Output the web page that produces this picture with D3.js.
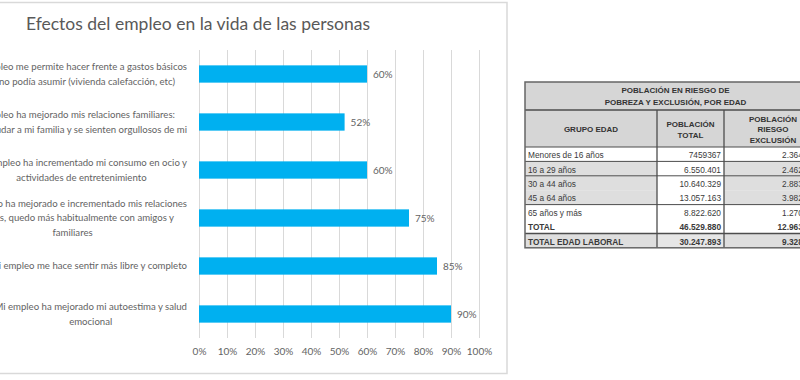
<!DOCTYPE html>
<html>
<head>
<meta charset="utf-8">
<script src="https://cdn.jsdelivr.net/npm/d3@7"></script>
<style>
  body { margin: 0; background: #fff; }
  svg { display: block; }
</style>
</head>
<body>
<script>
//chart + table of employment effects and poverty risk

(function(){

//bar chart data
var categories = [
    ["Mi empleo me permite hacer frente a gastos básicos", "que no podía asumir (vivienda calefacción, etc)"],
    ["Mi empleo ha mejorado mis relaciones familiares:", "puedo ayudar a mi familia y se sienten orgullosos de mi"],
    ["Mi empleo ha incrementado mi consumo en ocio y", "actividades de entretenimiento"],
    ["Mi empleo ha mejorado e incrementado mis relaciones", "sociales, quedo más habitualmente con amigos y", "familiares"],
    ["Mi empleo me hace sentir más libre y completo"],
    ["Mi empleo ha mejorado mi autoestima y salud", "emocional"]
];
var values = [60, 52, 60, 75, 85, 90];
var xTicks = [0, 10, 20, 30, 40, 50, 60, 70, 80, 90, 100];
var chartTitle = "Efectos del empleo en la vida de las personas";

//table data
var tableTitle = ["POBLACIÓN EN RIESGO DE", "POBREZA Y EXCLUSIÓN, POR EDAD"];
var tableHeaders = [["GRUPO EDAD"], ["POBLACIÓN", "TOTAL"], ["POBLACIÓN", "RIESGO", "EXCLUSIÓN"]];
var ageGroups = ["Menores de 16 años", "16 a 29 años", "30 a 44 años", "45 a 64 años", "65 años y más", "TOTAL", "TOTAL EDAD LABORAL"];
var totalPop = ["7459367", "6.550.401", "10.640.329", "13.057.163", "8.822.620", "46.529.880", "30.247.893"];
var riskPop = ["2.364.481", "2.462.614", "2.883.727", "3.982.545", "1.270.002", "12.963.369", "9.328.886"];

var width = 800, height = 380;
var grey = "#636363";

var svg = d3.select("body")
    .append("svg")
    .attr("width", width)
    .attr("height", height);

drawChart();
drawTable();

function drawChart(){
    //chart frame
    svg.append("rect")
        .attr("x", -2)
        .attr("y", 2.5)
        .attr("width", 509)
        .attr("height", 371)
        .attr("fill", "#fff")
        .attr("stroke", "#d9d9d9")
        .attr("stroke-width", 1.5);

    svg.append("text")
        .attr("x", 198)
        .attr("y", 30)
        .attr("text-anchor", "middle")
        .style("font-family", "Lato, 'Open Sans', sans-serif")
        .style("font-size", "17.5px")
        .style("fill", "#595959")
        .text(chartTitle);

    var x = d3.scaleLinear()
        .domain([0, 100])
        .range([199, 479]);

    var y = d3.scaleBand()
        .domain(d3.range(categories.length))
        .range([50, 338])
        .paddingInner(0.64)
        .paddingOuter(0.32);

    //gridlines
    svg.selectAll(".grid")
        .data(xTicks)
        .enter()
        .append("line")
        .attr("class", "grid")
        .attr("x1", function(d){ return x(d) + 0.5; })
        .attr("x2", function(d){ return x(d) + 0.5; })
        .attr("y1", 50)
        .attr("y2", 338)
        .attr("stroke", "#d9d9d9")
        .attr("stroke-width", 1);

    //x axis labels
    var xAxis = d3.axisBottom(x)
        .tickValues(xTicks)
        .tickSize(0)
        .tickPadding(0)
        .tickFormat(function(d){ return d + "%"; });

    var axisG = svg.append("g")
        .attr("transform", "translate(0,348)")
        .call(xAxis);
    axisG.select(".domain").remove();
    axisG.selectAll("text")
        .style("font-family", "Lato, 'Open Sans', sans-serif")
        .style("font-size", "10px")
        .style("fill", grey);

    //bars
    svg.selectAll(".bar")
        .data(values)
        .enter()
        .append("rect")
        .attr("class", "bar")
        .attr("x", x(0))
        .attr("y", function(d, i){ return y(i); })
        .attr("width", function(d){ return x(d) - x(0); })
        .attr("height", y.bandwidth())
        .attr("fill", "#00b0f0");

    //value labels
    svg.selectAll(".val")
        .data(values)
        .enter()
        .append("text")
        .attr("class", "val")
        .attr("x", function(d){ return x(d) + 6; })
        .attr("y", function(d, i){ return y(i) + y.bandwidth() / 2; })
        .attr("dy", "0.35em")
        .style("font-family", "Lato, 'Open Sans', sans-serif")
        .style("font-size", "10px")
        .style("fill", grey)
        .text(function(d){ return d + "%"; });

    //category labels: block right aligned, lines centred inside block
    var lineH = 14.5;
    var labels = svg.selectAll(".cat")
        .data(categories)
        .enter()
        .append("text")
        .attr("class", "cat")
        .style("font-family", "Lato, 'Open Sans', sans-serif")
        .style("font-size", "9.6px")
        .style("fill", grey)
        .attr("text-anchor", "middle");

    labels.each(function(lines, i){
        var t = d3.select(this);
        var cy = y(i) + y.bandwidth() / 2;
        var spans = t.selectAll("tspan")
            .data(lines)
            .enter()
            .append("tspan")
            .attr("y", function(d, j){ return cy + (j - (lines.length - 1) / 2) * lineH; })
            .attr("dy", "0.35em")
            .text(function(d){ return d; });
        var maxW = 0;
        spans.each(function(){ maxW = Math.max(maxW, this.getComputedTextLength()); });
        spans.attr("x", 187 - maxW / 2);
    });
};

function drawTable(){
    var cols = [525, 657, 724, 822];
    var top = 82, titleBottom = 110, headBottom = 147;
    var rowH = 14.4;
    var shadedRows = [1, 2, 3, 6];
    var groupStarts = [1, 2, 4, 6];
    var boldRows = [5, 6];
    var lineCol = "#4d4d4d";
    var font = "'Liberation Sans', Arial, sans-serif";

    var rowY = d3.scaleLinear()
        .domain([0, ageGroups.length])
        .range([headBottom, headBottom + rowH * ageGroups.length]);
    var bottom = rowY(ageGroups.length);

    var t = svg.append("g").attr("class", "table");

    //header backgrounds
    t.append("rect")
        .attr("x", cols[0]).attr("y", top)
        .attr("width", cols[3] - cols[0]).attr("height", headBottom - top)
        .attr("fill", "#d6d6d6");

    //data row backgrounds
    ageGroups.forEach(function(g, i){
        var shaded = shadedRows.indexOf(i) >= 0;
        t.append("rect")
            .attr("x", cols[0]).attr("y", rowY(i))
            .attr("width", cols[1] - cols[0]).attr("height", rowH)
            .attr("fill", shaded ? "#dedede" : "#fff");
        t.append("rect")
            .attr("x", cols[1]).attr("y", rowY(i))
            .attr("width", cols[2] - cols[1]).attr("height", rowH)
            .attr("fill", i == 6 ? "#e6e6e6" : "#fff");
        t.append("rect")
            .attr("x", cols[2]).attr("y", rowY(i))
            .attr("width", cols[3] - cols[2]).attr("height", rowH)
            .attr("fill", shaded ? "#dedede" : "#fff");
    });

    //title text
    t.selectAll(".ttl")
        .data(tableTitle)
        .enter()
        .append("text")
        .attr("x", (cols[0] + cols[3]) / 2 + 2)
        .attr("y", function(d, i){ return 90 + i * 12.5; })
        .attr("dy", "0.35em")
        .attr("text-anchor", "middle")
        .style("font-family", font)
        .style("font-size", "8px")
        .style("font-weight", "bold")
        .style("fill", "#333")
        .text(function(d){ return d; });

    //column headers
    tableHeaders.forEach(function(lines, c){
        var cx = (cols[c] + cols[c + 1]) / 2;
        var cy = (titleBottom + headBottom) / 2 + 1;
        t.selectAll(".h" + c)
            .data(lines)
            .enter()
            .append("text")
            .attr("x", cx)
            .attr("y", function(d, j){ return cy + (j - (lines.length - 1) / 2) * 10.5; })
            .attr("dy", "0.35em")
            .attr("text-anchor", "middle")
            .style("font-family", font)
            .style("font-size", "8px")
            .style("font-weight", "bold")
            .style("fill", "#333")
            .text(function(d){ return d; });
    });

    //data cells
    var cellText = function(data, xPos, anchor){
        t.selectAll(null)
            .data(data)
            .enter()
            .append("text")
            .attr("x", xPos)
            .attr("y", function(d, i){ return rowY(i) + rowH / 2 + 1; })
            .attr("dy", "0.35em")
            .attr("text-anchor", anchor)
            .style("font-family", font)
            .style("font-size", "8.3px")
            .style("font-weight", function(d, i){ return boldRows.indexOf(i) >= 0 ? "bold" : "normal"; })
            .style("fill", "#3a3a3a")
            .text(function(d){ return d; });
    };
    cellText(ageGroups, cols[0] + 3, "start");
    cellText(totalPop, cols[2] - 3, "end");
    cellText(riskPop, cols[3] - 3, "end");

    //lines
    var hline = function(yy, w){
        t.append("line")
            .attr("x1", cols[0]).attr("x2", cols[3])
            .attr("y1", yy).attr("y2", yy)
            .attr("stroke", lineCol).attr("stroke-width", w);
    };
    hline(titleBottom, 1.5);
    hline(headBottom, 1.2);
    groupStarts.forEach(function(g){ hline(rowY(g), g == 6 ? 1.5 : 1); });

    [1, 2].forEach(function(c){
        t.append("line")
            .attr("x1", cols[c]).attr("x2", cols[c])
            .attr("y1", titleBottom).attr("y2", bottom)
            .attr("stroke", lineCol).attr("stroke-width", 1.3);
    });

    t.append("rect")
        .attr("x", cols[0]).attr("y", top)
        .attr("width", cols[3] - cols[0]).attr("height", bottom - top)
        .attr("fill", "none")
        .attr("stroke", "#666").attr("stroke-width", 1.5);
};

})();
</script>
</body>
</html>
